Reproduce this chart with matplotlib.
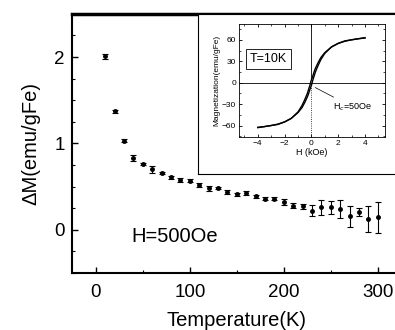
import matplotlib
matplotlib.use('Agg')
import matplotlib.pyplot as plt
from matplotlib.ticker import MultipleLocator

plt.rcParams['font.family'] = ['Liberation Sans', 'DejaVu Sans']

# main panel: Delta M vs temperature
temp = [10, 20, 30, 40, 50, 60, 70, 80, 90, 100, 110, 120, 130, 140, 150,
        160, 170, 180, 190, 200, 210, 220, 230, 240, 250, 260, 270, 280, 290, 300]
dm = [2.01, 1.37, 1.03, 0.83, 0.76, 0.70, 0.655, 0.605, 0.575, 0.57, 0.52, 0.48,
      0.485, 0.435, 0.41, 0.42, 0.385, 0.36, 0.36, 0.32, 0.28, 0.27, 0.22, 0.26,
      0.26, 0.24, 0.155, 0.205, 0.125, 0.145]
dm_err = [0.03, 0.02, 0.015, 0.03, 0.015, 0.04, 0.015, 0.02, 0.02, 0.015, 0.02, 0.027,
          0.015, 0.02, 0.015, 0.023, 0.015, 0.015, 0.015, 0.033, 0.033, 0.033, 0.064, 0.09,
          0.077, 0.10, 0.12, 0.05, 0.15, 0.18]

# inset: hysteresis loop at 10 K
h_field = [-4.0, -3.5, -3.0, -2.5, -2.0, -1.5, -1.0, -0.7, -0.5, -0.3, -0.2, -0.1, 0.0,
           0.1, 0.2, 0.3, 0.5, 0.7, 1.0, 1.5, 2.0, 2.5, 3.0, 3.5, 4.0]
m_asc = [-63, -61.5, -60, -58.5, -55, -50, -42, -35, -28, -20, -15, -9, -4,
         3, 9, 15, 24, 32, 41, 50, 55, 58, 60, 61.5, 62.5]
m_desc = [-62.5, -61.5, -60, -58, -55, -50, -41, -32, -24, -15, -9, -3, 4,
          9, 15, 20, 28, 35, 42, 50, 55, 58.5, 60, 61.5, 63]

fig = plt.figure(figsize=(3.95, 3.3), dpi=100)
ax = fig.add_axes([0.182, 0.173, 0.834, 0.785])
ax.errorbar(temp, dm, yerr=dm_err, fmt='o', color='black', ms=2.5,
            elinewidth=0.8, capsize=2.5, capthick=0.8)
ax.set_xlim(-25.5, 325)
ax.set_ylim(-0.5, 2.5)
ax.xaxis.set_major_locator(MultipleLocator(100))
ax.xaxis.set_minor_locator(MultipleLocator(50))
ax.yaxis.set_major_locator(MultipleLocator(1))
ax.yaxis.set_minor_locator(MultipleLocator(0.25))
ax.tick_params(which='both', direction='in', labelsize=13.5)
ax.tick_params(which='major', length=4, width=1)
ax.tick_params(which='minor', length=2, width=0.8)
ax.tick_params(axis='x', pad=8)
ax.tick_params(axis='y', pad=5)
ax.spines['left'].set_linewidth(1.5)
ax.spines['bottom'].set_linewidth(1.5)
ax.spines['top'].set_linewidth(2.5)
ax.set_xlabel('Temperature(K)', fontsize=14.5, labelpad=7)
ax.set_ylabel('ΔM(emu/gFe)', fontsize=14.5, labelpad=10)
ax.text(38, -0.08, 'H=500Oe', fontsize=14.5, va='center')

# white inset panel with frame
box = fig.add_axes([0.501, 0.473, 0.52, 0.485])
box.set_xticks([])
box.set_yticks([])
for s in box.spines.values():
    s.set_linewidth(0.8)

ins = fig.add_axes([0.605, 0.585, 0.370, 0.342])
ins.plot(h_field, m_asc, color='black', lw=1.0)
ins.plot(h_field, m_desc, color='black', lw=1.0)
ins.axhline(0, color='black', lw=0.6)
ins.axvline(0, ymin=0.51, ymax=1, color='black', lw=0.6)
ins.axvline(0, ymin=0, ymax=0.45, color='black', lw=0.6, ls=':')
ins.set_xlim(-5.4, 5.5)
ins.set_ylim(-76, 82)
ins.xaxis.set_major_locator(MultipleLocator(2))
ins.xaxis.set_minor_locator(MultipleLocator(1))
ins.yaxis.set_major_locator(MultipleLocator(30))
ins.yaxis.set_minor_locator(MultipleLocator(15))
ins.tick_params(which='both', direction='in', labelsize=6, top=True, right=True, pad=2)
ins.tick_params(which='major', length=2.5, width=0.6)
ins.tick_params(which='minor', length=1.5, width=0.5)
for s in ins.spines.values():
    s.set_linewidth(0.6)
ins.set_xlabel('H (kOe)', fontsize=6.5, labelpad=1)
ins.set_ylabel('Magnetization(emu/gFe)', fontsize=6, labelpad=1)
ins.text(-3.2, 33, 'T=10K', fontsize=9, ha='center', va='center',
         bbox=dict(boxstyle='square,pad=0.3', fc='white', ec='black', lw=0.6))
ins.annotate('H$_c$=50Oe', xy=(0.1, -5), xytext=(1.6, -34), fontsize=6.5, va='center',
             arrowprops=dict(arrowstyle='-', color='black', lw=0.5))

fig.savefig('out.png', dpi=100)
